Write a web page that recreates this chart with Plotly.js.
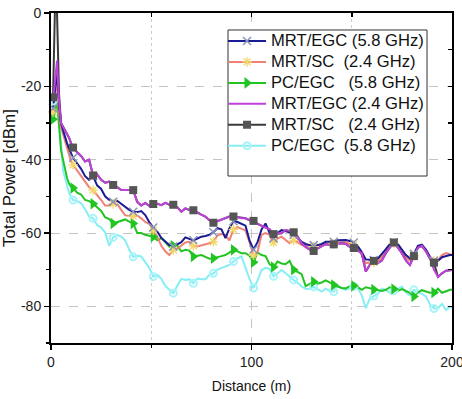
<!DOCTYPE html>
<html>
<head>
<meta charset="utf-8">
<script src="https://cdn.plot.ly/plotly-3.0.1.min.js"></script>
<style>
  html, body { margin: 0; padding: 0; background: #ffffff; }
  #chart { width: 462px; height: 399px; }
</style>
</head>
<body>
<div id="chart"></div>
<script>
// Distance samples (m)
const distance = [
  1, 2, 3, 4, 5, 6, 7, 8, 9, 10, 11,
  13, 15, 17, 19, 21, 23, 25, 27, 29, 31,
  33, 35, 37, 39, 41, 43, 45, 47, 49, 51,
  53, 55, 57, 59, 61, 63, 65, 67, 69, 71,
  73, 75, 77, 79, 81, 83, 85, 87, 89, 91,
  93, 95, 97, 99, 101, 103, 105, 107, 109, 111,
  113, 115, 117, 119, 121, 123, 125, 127, 129, 131,
  133, 135, 137, 139, 141, 143, 145, 147, 149, 151,
  153, 155, 157, 159, 161, 163, 165, 167, 169, 171,
  173, 175, 177, 179, 181, 183, 185, 187, 189, 191,
  193, 195, 197, 199, 200
];

// Total received power (dBm) per configuration
const mrtEgc58 = [
  -26, -20, -16, -25, -30, -32, -34, -35.5, -37, -38.3, -39.5,
  -41, -42.5, -44.5, -45.5, -44.5, -47, -48, -50, -51, -51.5,
  -51.2, -52, -52.8, -53.7, -54.2, -54.3, -54, -55.1, -57, -58.5,
  -59.6, -61.3, -62.3, -63.3, -63.7, -63.2, -62.5, -61.2, -61.5, -62,
  -61.5, -61, -60.8, -60.5, -59.8, -58.7, -59, -61.4, -58.7, -56.8,
  -57, -57.5, -58, -62, -64.5, -62.5, -59, -57.4, -60, -61.4,
  -60, -59.2, -59.4, -59.8, -60.5, -61.5, -62.4, -63, -63.3, -63.3,
  -63.3, -63, -62.4, -62.4, -62.4, -62, -61.9, -61.9, -62.2, -62.6,
  -63.6, -65.2, -67.2, -67.4, -67.4, -67, -65.8, -64.4, -63, -62.5,
  -63, -64.6, -66, -66.9, -65.7, -63.5, -63.2, -64.5, -66.5, -67.5,
  -67.6, -66.6, -66.2, -66, -66
];

const mrtSc24 = [
  -27, -22, -18, -27, -31, -33, -35, -37, -39, -40.5, -41.4,
  -43, -44.5, -46, -47.5, -48.3, -49.5, -51, -52.5, -52.5, -52,
  -52, -53.7, -55.2, -55.3, -55.3, -55.2, -56, -57, -57.5, -59.3,
  -61, -63.5, -65, -66, -64.6, -64.3, -63.5, -62.6, -62.4, -63.5,
  -63.7, -63.4, -63.3, -62.8, -62.4, -60.7, -60.3, -60.5, -62, -59,
  -58.4, -58.8, -59.3, -62.5, -66, -65.2, -60.5, -60, -60.5, -62.6,
  -61.5, -61, -62, -62.8, -62, -62.5, -63.3, -63.5, -63.7, -63.7,
  -63.5, -63.3, -63, -63, -63, -62.6, -62.5, -62.5, -63, -63.3,
  -64.2, -66, -68.2, -68, -68, -67.8, -66.5, -65, -63.5, -62.8,
  -63.6, -65.2, -66.6, -67.5, -66.2, -64, -63.6, -64.8, -66.6, -67.6,
  -67.4, -66, -65.5, -65.8, -66
];

const pcEgc58 = [
  -29, -27, -24, -32, -37.4, -40, -43, -45, -46.5, -47.4, -47.7,
  -49, -49.5, -51, -51.3, -52, -53, -54, -55.7, -56.2, -57.4,
  -57, -56.6, -56.3, -56.9, -57.4, -60, -60, -60.5, -60.8, -61,
  -62, -61.4, -62.5, -63.7, -63.5, -63.5, -65, -64.6, -64.8, -66.4,
  -66.2, -66, -66.5, -67, -66.9, -66.5, -66.3, -66, -65.3, -64.6,
  -65, -65.5, -65.5, -66.2, -68, -65.3, -66, -66.3, -68.5, -69.3,
  -67.8, -68.3, -68.5, -67.6, -70, -70.6, -71.2, -74.5, -74, -73.3,
  -73.8, -73.5, -72.9, -73.5, -74.2, -74.6, -75, -75.1, -74.5, -74.4,
  -74.8, -75.5, -74.8, -75, -75.4, -75.6, -75.8, -75.5, -74.8, -75.3,
  -75.8, -75.3, -75.8, -76.3, -77.3, -76.2, -75.6, -76, -76.3, -76.2,
  -75.2, -76.3, -75.8, -75.5, -75.5
];

const mrtEgc24 = [
  -24, -18, -13, -24, -30, -31, -32, -33, -34, -35.5, -36.7,
  -38, -39, -40.5, -40, -44.3, -44, -45.5, -46.3, -46, -46.9,
  -47.5, -48.3, -48.3, -48.3, -48.3, -51.5, -52.5, -51.8, -52.6, -52.1,
  -52, -52.4, -51.8, -52.3, -52.2, -53, -54.2, -53.3, -53.7, -53.9,
  -54.5, -55, -55.5, -56.5, -57.2, -56.8, -56.4, -55.8, -55.5, -55.4,
  -55.7, -56, -56, -56.5, -56.9, -57.5, -58, -58.3, -59, -60.1,
  -60.1, -60.1, -59.2, -59.4, -59.6, -61, -62.8, -63.8, -64.5, -64.9,
  -64.2, -63.7, -63, -63.3, -63.3, -63, -62.8, -63, -63.8, -64.2,
  -64.8, -65.5, -70.5, -68.7, -67.8, -68.2, -67.5, -65.5, -64, -62.8,
  -64, -65.5, -67.5, -68.7, -66.3, -64, -63.5, -65, -67, -70,
  -72, -71, -70.3, -70.1, -70.1
];

const mrtSc24b = [
  -23, 2, 0, -22, -30, -31, -32, -33, -34, -35.5, -36.7,
  -38, -39, -40.5, -40, -44.3, -44, -45.5, -46.3, -46, -46.9,
  -47.5, -48.3, -48.3, -48.3, -48.3, -51.5, -52.5, -51.8, -52.6, -52.1,
  -52, -52.4, -51.8, -52.3, -52.3, -53, -54.2, -53.3, -53.7, -53.8,
  -54.5, -55, -55.5, -56.5, -57.2, -56.8, -56.4, -55.8, -55.5, -55.5,
  -55.7, -56, -56, -56.5, -56.7, -57.5, -58, -58.3, -59, -60.3,
  -60.1, -60.1, -59.2, -59.4, -59.8, -61, -62.8, -63.8, -64.5, -64.9,
  -64.2, -63.7, -63, -63.3, -63.1, -63, -62.8, -63, -63.8, -64.1,
  -64.8, -65.5, -70.5, -68.7, -67.6, -68.2, -67.5, -65.5, -64, -62.6,
  -64, -65.5, -67.5, -68.7, -66.3, -64, -63.5, -65, -67, -68.1,
  -72, -71, -70.3, -70.1, -70.1
];

const pcEgc58b = [
  -24, -21, -21, -29, -37, -43, -45, -47, -49, -50.2, -51,
  -51.3, -51.9, -53.5, -55.5, -56, -57.8, -58.5, -59.8, -63.5, -61.2,
  -60.5, -61, -62, -64.5, -66.5, -66.2, -66.4, -68, -69.5, -71.9,
  -71.4, -72.5, -74.4, -75.5, -76.4, -74.4, -72.5, -72.8, -72.6, -73.7,
  -72.4, -72.6, -72.6, -71.4, -71, -70, -69.5, -69, -68.7, -67.8,
  -66.9, -66.4, -69.5, -72.5, -75, -73, -70.1, -69.5, -69.8, -71.8,
  -71, -70.1, -71, -72, -72.8, -73.6, -74.6, -75.2, -75.3, -74.7,
  -75.3, -76, -75.2, -75.8, -76, -74.3, -75, -75.5, -75, -74.6,
  -75.1, -77, -80.5, -77.9, -77.2, -76.6, -75.2, -75.5, -76.4, -75.8,
  -75.3, -74.6, -76.2, -77, -75.5, -76, -76.6, -77.3, -79.5, -80.6,
  -80.5, -79.3, -81, -80.1, -80.3
];

// Legend labels (spacing kept as in the figure key)
const NB = '\u00a0';
const labels = [
  'MRT/EGC' + NB + '(5.8 GHz)',
  'MRT/SC' + NB + NB + '(2.4 GHz)',
  'PC/EGC' + NB + NB + NB + '(5.8 GHz)',
  'MRT/EGC' + NB + '(2.4 GHz)',
  'MRT/SC' + NB + NB + NB + '(2.4 GHz)',
  'PC/EGC' + NB + NB + '(5.8 GHz)'
];

const xTicks = [0, 100, 200];
const yTicks = [0, -20, -40, -60, -80];

// Series styling: line colour, marker symbol, marker colour
const series = [
  { y: mrtEgc58, color: '#1b1b94', width: 2, marker: { symbol: 'x-thin-open', size: 8, color: '#8a94b8', line: { width: 1.5, color: '#8a94b8' } } },
  { y: mrtSc24,  color: '#f08274', width: 2, marker: { symbol: 'asterisk-open', size: 8, color: '#f2d66a', line: { width: 1.3, color: '#f2d66a' } } },
  { y: pcEgc58,  color: '#22c422', width: 2, marker: { symbol: 'triangle-right', size: 10, color: '#22c422' } },
  { y: mrtEgc24, color: '#c040dc', width: 2, marker: null },
  { y: mrtSc24b, color: '#3a3a3a', width: 2, marker: { symbol: 'square', size: 8, color: '#555555' } },
  { y: pcEgc58b, color: '#86eef4', width: 2, marker: { symbol: 'circle-open', size: 7, color: '#a8f4f8', line: { width: 2, color: '#a8f4f8' } } }
];

// Markers are placed every 10 m along each curve
const markIdx = distance.map((d, i) => ((d - 1) % 10 === 0 ? i : -1)).filter(i => i >= 0);

const traces = [];
// drawing order of the curves (bottom to top)
const drawOrder = [5, 2, 1, 0, 4, 3];
drawOrder.forEach(k => {
  const s = series[k];
  traces.push({
    type: 'scatter', mode: 'lines', x: distance, y: s.y,
    line: { color: s.color, width: s.width }, showlegend: false, hoverinfo: 'skip'
  });
});
drawOrder.forEach(k => {
  const s = series[k];
  if (!s.marker) return;
  traces.push({
    type: 'scatter', mode: 'markers',
    x: markIdx.map(i => distance[i]), y: markIdx.map(i => s.y[i]),
    marker: s.marker, showlegend: false, hoverinfo: 'skip', cliponaxis: false
  });
});
// legend keys: the row pitch follows the base legend font, the label text is set larger
series.forEach((s, k) => {
  const key = {
    type: 'scatter', mode: s.marker ? 'lines+markers' : 'lines',
    x: [null], y: [null],
    name: '<span style="font-size:16.6px">' + labels[k] + '</span>',
    line: { color: s.color, width: s.width }, showlegend: true
  };
  if (s.marker) key.marker = s.marker;
  traces.push(key);
});
// mirror axes carrying the inward ticks on top and right
traces.push({ type: 'scatter', mode: 'lines', x: [null], y: [null], xaxis: 'x2', yaxis: 'y2', showlegend: false, hoverinfo: 'skip' });

const FONT = 'Liberation Sans, Arial, sans-serif';

const layout = {
  width: 462, height: 399,
  margin: { l: 51, r: 10, t: 13, b: 56 },
  paper_bgcolor: '#ffffff', plot_bgcolor: '#ffffff',
  font: { family: FONT, color: '#222222' },
  showlegend: true,
  legend: {
    x: 0.429, y: 0.962, xanchor: 'left', yanchor: 'top',
    bgcolor: 'rgba(0,0,0,0)', borderwidth: 0,
    font: { family: FONT, size: 13.8, color: '#111111' },
    itemwidth: 38, tracegroupgap: 0
  },
  xaxis: {
    range: [0, 200], tickvals: xTicks, ticktext: xTicks.map(String),
    showline: true, linecolor: '#000000', linewidth: 2, mirror: true,
    ticks: 'outside', ticklen: 5, tickwidth: 1.5, tickcolor: '#000000',
    tickfont: { family: FONT, size: 14, color: '#222222' },
    ticklabelstandoff: 0, ticklabeloverflow: 'allow',
    showgrid: true, gridcolor: '#c4c4c4', gridwidth: 1, griddash: 'dash',
    zeroline: false,
    minor: { tickvals: [50, 150], ticks: 'outside', ticklen: 3, tickwidth: 1.5, tickcolor: '#000000',
             showgrid: true, gridcolor: '#cccccc', gridwidth: 1, griddash: 'dot' },
    title: { text: 'Distance (m)', font: { family: FONT, size: 14, color: '#111111' }, standoff: 12 }
  },
  yaxis: {
    range: [-90, 0], tickvals: yTicks, ticktext: yTicks.map(String),
    showline: true, linecolor: '#000000', linewidth: 2, mirror: true,
    ticks: 'outside', ticklen: 5, tickwidth: 1.5, tickcolor: '#000000',
    tickfont: { family: FONT, size: 14, color: '#222222' },
    showgrid: true, gridcolor: '#c4c4c4', gridwidth: 1, griddash: 'dash',
    zeroline: false,
    minor: { dtick: 10, tick0: 0, ticks: 'outside', ticklen: 3, tickwidth: 1.5, tickcolor: '#000000', showgrid: false },
    title: { text: 'Total Power [dBm]', font: { family: FONT, size: 17, color: '#111111' }, standoff: 7 }
  },
  xaxis2: {
    overlaying: 'x', side: 'top', anchor: 'y2', range: [0, 200],
    tickvals: [0, 50, 100, 150, 200], ticks: 'inside', ticklen: 4, tickwidth: 1.5, tickcolor: '#000000',
    showticklabels: false, showgrid: false, showline: false, zeroline: false
  },
  yaxis2: {
    overlaying: 'y', side: 'right', anchor: 'x2', range: [-90, 0],
    tickvals: [0, -10, -20, -30, -40, -50, -60, -70, -80], ticks: 'inside', ticklen: 4, tickwidth: 1.5, tickcolor: '#000000',
    showticklabels: false, showgrid: false, showline: false, zeroline: false
  },
  shapes: [{
    type: 'rect', xref: 'paper', yref: 'paper',
    x0: 0.4414, x1: 0.9377, y0: 0.506, y1: 0.9485,
    fillcolor: '#ffffff', line: { color: '#333333', width: 1 }, layer: 'above'
  }]
};

Plotly.newPlot('chart', traces, layout, { staticPlot: true, displayModeBar: false });
</script>
</body>
</html>
